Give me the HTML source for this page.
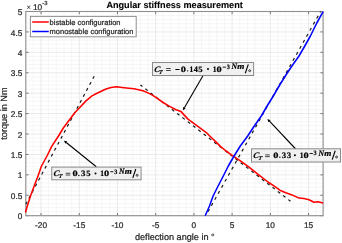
<!DOCTYPE html>
<html><head><meta charset="utf-8"><style>
html,body{margin:0;padding:0;background:#fff;width:342px;height:243px;overflow:hidden}
svg{display:block;will-change:transform}
text{font-family:"Liberation Sans",sans-serif;fill:#262626;stroke:#262626;stroke-width:0.22px;text-rendering:geometricPrecision}
.mn{stroke:#f4f4f4;stroke-width:0.8}
.mj{stroke:#e4e4e4;stroke-width:0.8}
.tk{stroke:#555;stroke-width:0.8}
.ax{fill:none;stroke:#8f8f8f;stroke-width:1.1}
.ds{stroke:#1a1a1a;stroke-width:1.2}
.rd{fill:none;stroke:#ff0000;stroke-width:1.55;stroke-linejoin:round}
.bl{fill:none;stroke:#0000ff;stroke-width:1.55;stroke-linejoin:round}
.lg{fill:#fff;stroke:#8f8f8f;stroke-width:1}
.tl{font-size:8.3px}
.lt{font-size:7.5px}
.al{font-size:9.15px}
.tt{font-size:9.15px;font-weight:bold;fill:#000;stroke:#000;stroke-width:0.1px}
.ar{stroke:#000;stroke-width:1.1}
.bx{fill:#f0f0f0;stroke:#8a8a8a;stroke-width:1}
.bt{font-family:"Liberation Serif",serif;font-weight:bold;font-size:8.8px;fill:#000;stroke:#000;stroke-width:0.2px}
</style></head><body>
<svg width="342" height="243" viewBox="0 0 342 243">
<line x1="25.75" y1="11.5" x2="25.75" y2="215.7" class="mn"/>
<line x1="33.40" y1="11.5" x2="33.40" y2="215.7" class="mn"/>
<line x1="48.68" y1="11.5" x2="48.68" y2="215.7" class="mn"/>
<line x1="56.33" y1="11.5" x2="56.33" y2="215.7" class="mn"/>
<line x1="63.97" y1="11.5" x2="63.97" y2="215.7" class="mn"/>
<line x1="71.61" y1="11.5" x2="71.61" y2="215.7" class="mn"/>
<line x1="86.90" y1="11.5" x2="86.90" y2="215.7" class="mn"/>
<line x1="94.54" y1="11.5" x2="94.54" y2="215.7" class="mn"/>
<line x1="102.18" y1="11.5" x2="102.18" y2="215.7" class="mn"/>
<line x1="109.83" y1="11.5" x2="109.83" y2="215.7" class="mn"/>
<line x1="125.11" y1="11.5" x2="125.11" y2="215.7" class="mn"/>
<line x1="132.76" y1="11.5" x2="132.76" y2="215.7" class="mn"/>
<line x1="140.40" y1="11.5" x2="140.40" y2="215.7" class="mn"/>
<line x1="148.04" y1="11.5" x2="148.04" y2="215.7" class="mn"/>
<line x1="163.33" y1="11.5" x2="163.33" y2="215.7" class="mn"/>
<line x1="170.97" y1="11.5" x2="170.97" y2="215.7" class="mn"/>
<line x1="178.61" y1="11.5" x2="178.61" y2="215.7" class="mn"/>
<line x1="186.26" y1="11.5" x2="186.26" y2="215.7" class="mn"/>
<line x1="201.54" y1="11.5" x2="201.54" y2="215.7" class="mn"/>
<line x1="209.19" y1="11.5" x2="209.19" y2="215.7" class="mn"/>
<line x1="216.83" y1="11.5" x2="216.83" y2="215.7" class="mn"/>
<line x1="224.47" y1="11.5" x2="224.47" y2="215.7" class="mn"/>
<line x1="239.76" y1="11.5" x2="239.76" y2="215.7" class="mn"/>
<line x1="247.40" y1="11.5" x2="247.40" y2="215.7" class="mn"/>
<line x1="255.04" y1="11.5" x2="255.04" y2="215.7" class="mn"/>
<line x1="262.69" y1="11.5" x2="262.69" y2="215.7" class="mn"/>
<line x1="277.97" y1="11.5" x2="277.97" y2="215.7" class="mn"/>
<line x1="285.62" y1="11.5" x2="285.62" y2="215.7" class="mn"/>
<line x1="293.26" y1="11.5" x2="293.26" y2="215.7" class="mn"/>
<line x1="300.90" y1="11.5" x2="300.90" y2="215.7" class="mn"/>
<line x1="316.19" y1="11.5" x2="316.19" y2="215.7" class="mn"/>
<line x1="323.83" y1="11.5" x2="323.83" y2="215.7" class="mn"/>
<line x1="25.8" y1="211.62" x2="323.1" y2="211.62" class="mn"/>
<line x1="25.8" y1="207.53" x2="323.1" y2="207.53" class="mn"/>
<line x1="25.8" y1="203.45" x2="323.1" y2="203.45" class="mn"/>
<line x1="25.8" y1="199.36" x2="323.1" y2="199.36" class="mn"/>
<line x1="25.8" y1="191.20" x2="323.1" y2="191.20" class="mn"/>
<line x1="25.8" y1="187.11" x2="323.1" y2="187.11" class="mn"/>
<line x1="25.8" y1="183.03" x2="323.1" y2="183.03" class="mn"/>
<line x1="25.8" y1="178.94" x2="323.1" y2="178.94" class="mn"/>
<line x1="25.8" y1="170.78" x2="323.1" y2="170.78" class="mn"/>
<line x1="25.8" y1="166.69" x2="323.1" y2="166.69" class="mn"/>
<line x1="25.8" y1="162.61" x2="323.1" y2="162.61" class="mn"/>
<line x1="25.8" y1="158.52" x2="323.1" y2="158.52" class="mn"/>
<line x1="25.8" y1="150.36" x2="323.1" y2="150.36" class="mn"/>
<line x1="25.8" y1="146.27" x2="323.1" y2="146.27" class="mn"/>
<line x1="25.8" y1="142.19" x2="323.1" y2="142.19" class="mn"/>
<line x1="25.8" y1="138.10" x2="323.1" y2="138.10" class="mn"/>
<line x1="25.8" y1="129.94" x2="323.1" y2="129.94" class="mn"/>
<line x1="25.8" y1="125.85" x2="323.1" y2="125.85" class="mn"/>
<line x1="25.8" y1="121.77" x2="323.1" y2="121.77" class="mn"/>
<line x1="25.8" y1="117.68" x2="323.1" y2="117.68" class="mn"/>
<line x1="25.8" y1="109.52" x2="323.1" y2="109.52" class="mn"/>
<line x1="25.8" y1="105.43" x2="323.1" y2="105.43" class="mn"/>
<line x1="25.8" y1="101.35" x2="323.1" y2="101.35" class="mn"/>
<line x1="25.8" y1="97.26" x2="323.1" y2="97.26" class="mn"/>
<line x1="25.8" y1="89.10" x2="323.1" y2="89.10" class="mn"/>
<line x1="25.8" y1="85.01" x2="323.1" y2="85.01" class="mn"/>
<line x1="25.8" y1="80.93" x2="323.1" y2="80.93" class="mn"/>
<line x1="25.8" y1="76.84" x2="323.1" y2="76.84" class="mn"/>
<line x1="25.8" y1="68.68" x2="323.1" y2="68.68" class="mn"/>
<line x1="25.8" y1="64.59" x2="323.1" y2="64.59" class="mn"/>
<line x1="25.8" y1="60.51" x2="323.1" y2="60.51" class="mn"/>
<line x1="25.8" y1="56.42" x2="323.1" y2="56.42" class="mn"/>
<line x1="25.8" y1="48.26" x2="323.1" y2="48.26" class="mn"/>
<line x1="25.8" y1="44.17" x2="323.1" y2="44.17" class="mn"/>
<line x1="25.8" y1="40.09" x2="323.1" y2="40.09" class="mn"/>
<line x1="25.8" y1="36.00" x2="323.1" y2="36.00" class="mn"/>
<line x1="25.8" y1="27.84" x2="323.1" y2="27.84" class="mn"/>
<line x1="25.8" y1="23.75" x2="323.1" y2="23.75" class="mn"/>
<line x1="25.8" y1="19.67" x2="323.1" y2="19.67" class="mn"/>
<line x1="25.8" y1="15.58" x2="323.1" y2="15.58" class="mn"/>
<line x1="41.04" y1="11.5" x2="41.04" y2="215.7" class="mj"/>
<line x1="79.26" y1="11.5" x2="79.26" y2="215.7" class="mj"/>
<line x1="117.47" y1="11.5" x2="117.47" y2="215.7" class="mj"/>
<line x1="155.69" y1="11.5" x2="155.69" y2="215.7" class="mj"/>
<line x1="193.90" y1="11.5" x2="193.90" y2="215.7" class="mj"/>
<line x1="232.12" y1="11.5" x2="232.12" y2="215.7" class="mj"/>
<line x1="270.33" y1="11.5" x2="270.33" y2="215.7" class="mj"/>
<line x1="308.55" y1="11.5" x2="308.55" y2="215.7" class="mj"/>
<line x1="25.8" y1="215.70" x2="323.1" y2="215.70" class="mj"/>
<line x1="25.8" y1="195.28" x2="323.1" y2="195.28" class="mj"/>
<line x1="25.8" y1="174.86" x2="323.1" y2="174.86" class="mj"/>
<line x1="25.8" y1="154.44" x2="323.1" y2="154.44" class="mj"/>
<line x1="25.8" y1="134.02" x2="323.1" y2="134.02" class="mj"/>
<line x1="25.8" y1="113.60" x2="323.1" y2="113.60" class="mj"/>
<line x1="25.8" y1="93.18" x2="323.1" y2="93.18" class="mj"/>
<line x1="25.8" y1="72.76" x2="323.1" y2="72.76" class="mj"/>
<line x1="25.8" y1="52.34" x2="323.1" y2="52.34" class="mj"/>
<line x1="25.8" y1="31.92" x2="323.1" y2="31.92" class="mj"/>
<line x1="25.8" y1="11.50" x2="323.1" y2="11.50" class="mj"/>
<line x1="41.04" y1="215.7" x2="41.04" y2="213.0" class="tk"/>
<line x1="41.04" y1="11.5" x2="41.04" y2="14.2" class="tk"/>
<text x="41.04" y="227.6" class="tl" text-anchor="middle">-20</text>
<line x1="79.26" y1="215.7" x2="79.26" y2="213.0" class="tk"/>
<line x1="79.26" y1="11.5" x2="79.26" y2="14.2" class="tk"/>
<text x="79.26" y="227.6" class="tl" text-anchor="middle">-15</text>
<line x1="117.47" y1="215.7" x2="117.47" y2="213.0" class="tk"/>
<line x1="117.47" y1="11.5" x2="117.47" y2="14.2" class="tk"/>
<text x="117.47" y="227.6" class="tl" text-anchor="middle">-10</text>
<line x1="155.69" y1="215.7" x2="155.69" y2="213.0" class="tk"/>
<line x1="155.69" y1="11.5" x2="155.69" y2="14.2" class="tk"/>
<text x="155.69" y="227.6" class="tl" text-anchor="middle">-5</text>
<line x1="193.90" y1="215.7" x2="193.90" y2="213.0" class="tk"/>
<line x1="193.90" y1="11.5" x2="193.90" y2="14.2" class="tk"/>
<text x="193.90" y="227.6" class="tl" text-anchor="middle">0</text>
<line x1="232.12" y1="215.7" x2="232.12" y2="213.0" class="tk"/>
<line x1="232.12" y1="11.5" x2="232.12" y2="14.2" class="tk"/>
<text x="232.12" y="227.6" class="tl" text-anchor="middle">5</text>
<line x1="270.33" y1="215.7" x2="270.33" y2="213.0" class="tk"/>
<line x1="270.33" y1="11.5" x2="270.33" y2="14.2" class="tk"/>
<text x="270.33" y="227.6" class="tl" text-anchor="middle">10</text>
<line x1="308.55" y1="215.7" x2="308.55" y2="213.0" class="tk"/>
<line x1="308.55" y1="11.5" x2="308.55" y2="14.2" class="tk"/>
<text x="308.55" y="227.6" class="tl" text-anchor="middle">15</text>
<line x1="25.8" y1="215.70" x2="28.5" y2="215.70" class="tk"/>
<line x1="323.1" y1="215.70" x2="320.40000000000003" y2="215.70" class="tk"/>
<text x="22.4" y="219.30" class="tl" text-anchor="end">0</text>
<line x1="25.8" y1="195.28" x2="28.5" y2="195.28" class="tk"/>
<line x1="323.1" y1="195.28" x2="320.40000000000003" y2="195.28" class="tk"/>
<text x="22.4" y="198.88" class="tl" text-anchor="end">0.5</text>
<line x1="25.8" y1="174.86" x2="28.5" y2="174.86" class="tk"/>
<line x1="323.1" y1="174.86" x2="320.40000000000003" y2="174.86" class="tk"/>
<text x="22.4" y="178.46" class="tl" text-anchor="end">1</text>
<line x1="25.8" y1="154.44" x2="28.5" y2="154.44" class="tk"/>
<line x1="323.1" y1="154.44" x2="320.40000000000003" y2="154.44" class="tk"/>
<text x="22.4" y="158.04" class="tl" text-anchor="end">1.5</text>
<line x1="25.8" y1="134.02" x2="28.5" y2="134.02" class="tk"/>
<line x1="323.1" y1="134.02" x2="320.40000000000003" y2="134.02" class="tk"/>
<text x="22.4" y="137.62" class="tl" text-anchor="end">2</text>
<line x1="25.8" y1="113.60" x2="28.5" y2="113.60" class="tk"/>
<line x1="323.1" y1="113.60" x2="320.40000000000003" y2="113.60" class="tk"/>
<text x="22.4" y="117.20" class="tl" text-anchor="end">2.5</text>
<line x1="25.8" y1="93.18" x2="28.5" y2="93.18" class="tk"/>
<line x1="323.1" y1="93.18" x2="320.40000000000003" y2="93.18" class="tk"/>
<text x="22.4" y="96.78" class="tl" text-anchor="end">3</text>
<line x1="25.8" y1="72.76" x2="28.5" y2="72.76" class="tk"/>
<line x1="323.1" y1="72.76" x2="320.40000000000003" y2="72.76" class="tk"/>
<text x="22.4" y="76.36" class="tl" text-anchor="end">3.5</text>
<line x1="25.8" y1="52.34" x2="28.5" y2="52.34" class="tk"/>
<line x1="323.1" y1="52.34" x2="320.40000000000003" y2="52.34" class="tk"/>
<text x="22.4" y="55.94" class="tl" text-anchor="end">4</text>
<line x1="25.8" y1="31.92" x2="28.5" y2="31.92" class="tk"/>
<line x1="323.1" y1="31.92" x2="320.40000000000003" y2="31.92" class="tk"/>
<text x="22.4" y="35.52" class="tl" text-anchor="end">4.5</text>
<line x1="25.8" y1="11.50" x2="28.5" y2="11.50" class="tk"/>
<line x1="323.1" y1="11.50" x2="320.40000000000003" y2="11.50" class="tk"/>
<text x="22.4" y="15.10" class="tl" text-anchor="end">5</text>
<rect x="25.8" y="11.5" width="297.30" height="204.20" class="ax"/>
<line x1="25.75" y1="204.26" x2="94.16" y2="76.33" class="ds" stroke-dasharray="3.0 3.78" stroke-dashoffset="0.13"/>
<line x1="140.40" y1="84.97" x2="290.51" y2="201.28" class="ds" stroke-dasharray="3.0 3.70" stroke-dashoffset="0.43"/>
<line x1="207.43" y1="212.67" x2="320.62" y2="11.50" class="ds" stroke-dasharray="3.0 3.93" stroke-dashoffset="5.88"/>
<polyline points="25.50,212.50 27.30,206.00 30.50,196.00 34.20,186.00 38.00,176.00 41.50,166.00 47.00,156.00 51.70,146.40 58.50,136.00 63.30,128.00 74.80,112.70 77.40,110.00 86.00,100.90 92.00,95.90 97.00,93.20 106.00,89.00 111.00,87.50 116.50,86.80 124.00,87.70 134.00,88.80 143.00,90.80 148.00,92.90 152.00,94.90 157.30,98.40 163.10,102.50 168.80,105.90 176.00,109.80 181.00,111.60 188.00,119.10 198.20,126.70 206.00,132.30 210.00,136.30 215.40,141.40 220.70,146.60 226.10,151.00 231.40,154.80 240.00,160.60 249.00,167.20 260.00,175.80 268.00,182.00 273.90,185.90 279.90,190.20 285.80,192.80 292.00,194.90 299.00,198.10 304.00,198.60 309.00,199.70 314.00,202.30 318.00,201.80 323.10,203.00" class="rd"/>
<polyline points="205.20,215.70 209.50,206.00 213.10,196.00 218.10,186.00 223.30,176.00 228.30,166.00 234.10,156.00 240.30,146.00 247.70,136.00 254.30,126.00 261.30,116.00 267.10,106.00 273.30,96.00 279.10,86.00 285.30,76.00 291.90,66.00 299.00,56.00 304.80,46.00 310.40,36.00 316.80,23.00 323.10,11.70" class="bl"/>
<rect x="30.4" y="16.4" width="105.8" height="20.4" class="lg"/>
<line x1="32.2" y1="22" x2="48.8" y2="22" stroke="#ff0000" stroke-width="1.5"/>
<line x1="32.2" y1="31.5" x2="48.8" y2="31.5" stroke="#0000ff" stroke-width="1.5"/>
<text x="49.6" y="24.9" class="lt">bistable configuration</text>
<text x="49.6" y="34.4" class="lt">monostable configuration</text>
<line x1="203.40" y1="75.00" x2="184.36" y2="107.79" class="ar"/><polygon points="182.90,110.30 183.06,107.04 185.65,108.55" fill="#000"/>
<line x1="96.30" y1="166.80" x2="66.26" y2="142.52" class="ar"/><polygon points="64.00,140.70 67.20,141.36 65.31,143.69" fill="#000"/>
<line x1="295.70" y1="149.00" x2="269.49" y2="121.21" class="ar"/><polygon points="267.50,119.10 270.58,120.18 268.40,122.24" fill="#000"/>
<rect x="152.5" y="62.5" width="101.10" height="13.00" class="bx"/><text transform="translate(156.70,71.80) skewX(-10) scale(1.0,1)" text-anchor="middle" style="font-size:8.40px;font-style:italic" class="bt">C</text><text transform="translate(160.55,73.70) skewX(-10) scale(0.95,1)" text-anchor="middle" style="font-size:5.90px;font-style:italic" class="bt">T</text><rect x="166.15" y="68.20" width="4.6" height="0.8" fill="#1a1a1a"/><rect x="166.15" y="70.00" width="4.6" height="0.8" fill="#1a1a1a"/><rect x="175.35" y="69.00" width="4.2" height="1.0" fill="#000"/><text transform="translate(183.45,71.80) scale(1.27,1)" text-anchor="middle" style="font-size:8.20px" class="bt">0</text><circle cx="187.65" cy="70.85" r="0.72" fill="#000"/><text transform="translate(191.35,71.80) scale(0.92,1)" text-anchor="middle" style="font-size:8.20px" class="bt">1</text><text transform="translate(195.70,71.80) scale(1.0,1)" text-anchor="middle" style="font-size:8.20px" class="bt">4</text><text transform="translate(200.45,71.80) scale(1.05,1)" text-anchor="middle" style="font-size:8.20px" class="bt">5</text><circle cx="208.00" cy="68.90" r="1.0" fill="#000"/><text transform="translate(214.70,71.80) scale(0.92,1)" text-anchor="middle" style="font-size:8.20px" class="bt">1</text><text transform="translate(219.10,71.80) scale(1.27,1)" text-anchor="middle" style="font-size:8.20px" class="bt">0</text><rect x="222.70" y="66.70" width="3.2" height="0.9" fill="#000"/><text transform="translate(228.20,69.00) scale(0.95,1)" text-anchor="middle" style="font-size:6.60px" class="bt">3</text><text transform="translate(234.30,69.30) scale(0.93,1)" text-anchor="middle" style="font-size:8.30px;font-style:italic" class="bt">N</text><text transform="translate(240.80,69.30) scale(1.1,1)" text-anchor="middle" style="font-size:8.30px;font-style:italic" class="bt">m</text><line x1="245.30" y1="73.30" x2="248.30" y2="64.40" stroke="#000" stroke-width="1.1"/><circle cx="249.65" cy="70.70" r="0.95" fill="none" stroke="#111" stroke-width="0.8"/>
<rect x="51.75" y="167.1" width="89.35" height="12.70" class="bx"/><text transform="translate(56.05,176.40) skewX(-10) scale(1.0,1)" text-anchor="middle" style="font-size:8.40px;font-style:italic" class="bt">C</text><text transform="translate(60.30,178.30) skewX(-10) scale(0.95,1)" text-anchor="middle" style="font-size:5.90px;font-style:italic" class="bt">T</text><rect x="65.70" y="172.80" width="4.6" height="0.8" fill="#1a1a1a"/><rect x="65.70" y="174.60" width="4.6" height="0.8" fill="#1a1a1a"/><text transform="translate(75.20,176.40) scale(1.27,1)" text-anchor="middle" style="font-size:8.20px" class="bt">0</text><circle cx="78.85" cy="175.45" r="0.72" fill="#000"/><text transform="translate(83.20,176.40) scale(1.08,1)" text-anchor="middle" style="font-size:8.20px" class="bt">3</text><text transform="translate(88.30,176.40) scale(1.05,1)" text-anchor="middle" style="font-size:8.20px" class="bt">5</text><circle cx="95.50" cy="173.50" r="1.0" fill="#000"/><text transform="translate(102.20,176.40) scale(0.92,1)" text-anchor="middle" style="font-size:8.20px" class="bt">1</text><text transform="translate(106.60,176.40) scale(1.27,1)" text-anchor="middle" style="font-size:8.20px" class="bt">0</text><rect x="110.20" y="171.30" width="3.2" height="0.9" fill="#000"/><text transform="translate(115.70,173.60) scale(0.95,1)" text-anchor="middle" style="font-size:6.60px" class="bt">3</text><text transform="translate(121.80,173.90) scale(0.93,1)" text-anchor="middle" style="font-size:8.30px;font-style:italic" class="bt">N</text><text transform="translate(128.30,173.90) scale(1.1,1)" text-anchor="middle" style="font-size:8.30px;font-style:italic" class="bt">m</text><line x1="132.80" y1="177.90" x2="135.80" y2="169.00" stroke="#000" stroke-width="1.1"/><circle cx="137.15" cy="175.30" r="0.95" fill="none" stroke="#111" stroke-width="0.8"/>
<rect x="251.5" y="148.8" width="89.00" height="13.20" class="bx"/><text transform="translate(255.90,158.10) skewX(-10) scale(1.0,1)" text-anchor="middle" style="font-size:8.40px;font-style:italic" class="bt">C</text><text transform="translate(260.00,160.00) skewX(-10) scale(0.95,1)" text-anchor="middle" style="font-size:5.90px;font-style:italic" class="bt">T</text><rect x="265.20" y="154.50" width="4.6" height="0.8" fill="#1a1a1a"/><rect x="265.20" y="156.30" width="4.6" height="0.8" fill="#1a1a1a"/><text transform="translate(275.90,158.10) scale(1.27,1)" text-anchor="middle" style="font-size:8.20px" class="bt">0</text><circle cx="279.85" cy="157.15" r="0.72" fill="#000"/><text transform="translate(284.00,158.10) scale(1.08,1)" text-anchor="middle" style="font-size:8.20px" class="bt">3</text><text transform="translate(289.05,158.10) scale(1.08,1)" text-anchor="middle" style="font-size:8.20px" class="bt">3</text><circle cx="294.90" cy="155.20" r="1.0" fill="#000"/><text transform="translate(301.60,158.10) scale(0.92,1)" text-anchor="middle" style="font-size:8.20px" class="bt">1</text><text transform="translate(306.00,158.10) scale(1.27,1)" text-anchor="middle" style="font-size:8.20px" class="bt">0</text><rect x="309.60" y="153.00" width="3.2" height="0.9" fill="#000"/><text transform="translate(315.10,155.30) scale(0.95,1)" text-anchor="middle" style="font-size:6.60px" class="bt">3</text><text transform="translate(321.20,155.60) scale(0.93,1)" text-anchor="middle" style="font-size:8.30px;font-style:italic" class="bt">N</text><text transform="translate(327.70,155.60) scale(1.1,1)" text-anchor="middle" style="font-size:8.30px;font-style:italic" class="bt">m</text><line x1="332.20" y1="159.60" x2="335.20" y2="150.70" stroke="#000" stroke-width="1.1"/><circle cx="336.55" cy="157.00" r="0.95" fill="none" stroke="#111" stroke-width="0.8"/>
<text x="174.6" y="8.1" class="tt" text-anchor="middle">Angular stiffness measurement</text>
<text x="174.85" y="240.4" class="al" text-anchor="middle">deflection angle in °</text>
<text transform="translate(7.0,113.6) rotate(-90)" class="al" text-anchor="middle">torque in Nm</text>
<text x="28.7" y="9.8" class="tl" text-anchor="middle" style="stroke-width:0">×</text><text x="32.9" y="9.8" class="tl">10</text><text x="42.3" y="4.8" class="tl" style="font-size:5.8px">-3</text>
</svg>
</body></html>
